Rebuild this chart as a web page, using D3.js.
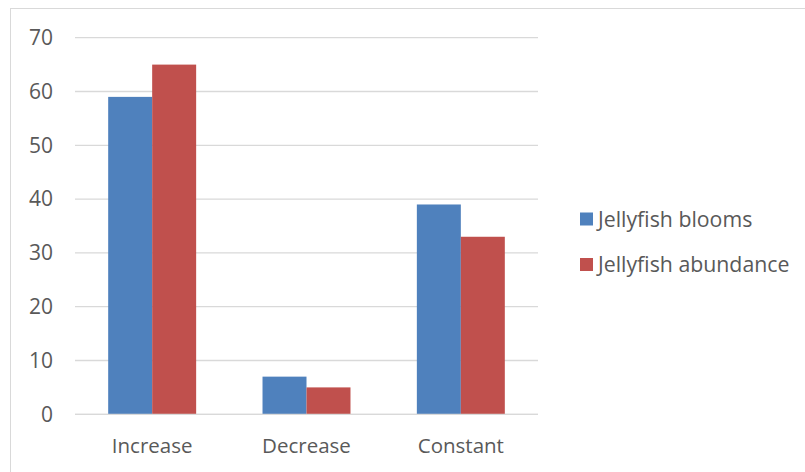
<!DOCTYPE html>
<html>
<head>
<meta charset="utf-8">
<script src="https://cdn.jsdelivr.net/npm/d3@7"></script>
<style>
  html, body { margin: 0; padding: 0; background: #fff; }
  svg { display: block; }
  text { font-family: "Open Sans", "Noto Sans", sans-serif; fill: #595959; }
</style>
</head>
<body>
<svg id="chart" width="805" height="472"></svg>
<script>
// Survey categories and the two series counted in each
const categories = ["Increase", "Decrease", "Constant"];
const seriesNames = ["Jellyfish blooms", "Jellyfish abundance"];
const bloomsValues = [59, 7, 39];
const abundanceValues = [65, 5, 33];
const yTicks = [0, 10, 20, 30, 40, 50, 60, 70];
const seriesColors = ["#4F81BD", "#C0504D"];

const series = [bloomsValues, abundanceValues];
const FONT = "'Open Sans', 'Noto Sans', sans-serif";
const FS = 20.5;
const svg = d3.select("#chart");

// Outer chart frame
svg.append("rect")
  .attr("x", 10.5).attr("y", 8.5)
  .attr("width", 820).attr("height", 480)
  .attr("fill", "none")
  .attr("stroke", "#d9d9d9")
  .attr("stroke-width", 1);

const plot = { left: 75, right: 538, top: 37.7, bottom: 414.3 };

const x = d3.scaleBand()
  .domain(categories)
  .range([plot.left, plot.right])
  .paddingInner(0.43)
  .paddingOuter(0.215);

const xs = d3.scaleBand()
  .domain(d3.range(series.length))
  .range([0, x.bandwidth()]);

const y = d3.scaleLinear()
  .domain([0, 70])
  .range([plot.bottom, plot.top]);

// Horizontal gridlines
svg.append("g")
  .selectAll("line")
  .data(yTicks)
  .join("line")
  .attr("x1", plot.left)
  .attr("x2", plot.right)
  .attr("y1", d => y(d))
  .attr("y2", d => y(d))
  .attr("stroke", "#d9d9d9")
  .attr("stroke-width", 1.3);

// Y axis labels
const yAxis = d3.axisLeft(y).tickValues(yTicks).tickSize(0).tickPadding(0);
const yg = svg.append("g")
  .attr("transform", `translate(${plot.left - 22},0)`)
  .call(yAxis)
  .attr("font-size", 21)
  .attr("font-family", FONT);
yg.select(".domain").remove();
yg.selectAll("text").attr("fill", "#595959");

// Bars
const groups = svg.append("g")
  .selectAll("g")
  .data(categories)
  .join("g")
  .attr("transform", d => `translate(${x(d)},0)`);

groups.selectAll("rect")
  .data((d, i) => series.map((s, k) => ({ k, v: s[i] })))
  .join("rect")
  .attr("x", d => xs(d.k))
  .attr("width", xs.bandwidth())
  .attr("y", d => y(d.v))
  .attr("height", d => y(0) - y(d.v))
  .attr("fill", d => seriesColors[d.k]);

// Baseline redrawn over bars
svg.append("line")
  .attr("x1", plot.left).attr("x2", plot.right)
  .attr("y1", y(0)).attr("y2", y(0))
  .attr("stroke", "#d9d9d9")
  .attr("stroke-width", 1.3);

// Category labels
const xAxis = d3.axisBottom(x).tickSize(0).tickPadding(0);
const xg = svg.append("g")
  .attr("transform", `translate(0,${plot.bottom + 24})`)
  .call(xAxis)
  .attr("font-size", FS)
  .attr("font-family", FONT);
xg.select(".domain").remove();
xg.selectAll("text").attr("fill", "#595959");

// Legend
const legend = svg.append("g")
  .selectAll("g")
  .data(seriesNames)
  .join("g")
  .attr("transform", (d, i) => `translate(580,${212.5 + i * 45.5})`);

legend.append("rect")
  .attr("width", 13).attr("height", 13)
  .attr("fill", (d, i) => seriesColors[i]);

legend.append("text")
  .attr("x", 18)
  .attr("y", 14)
  .attr("font-size", 21.3)
  .attr("font-family", FONT)
  .text(d => d);
</script>
</body>
</html>
